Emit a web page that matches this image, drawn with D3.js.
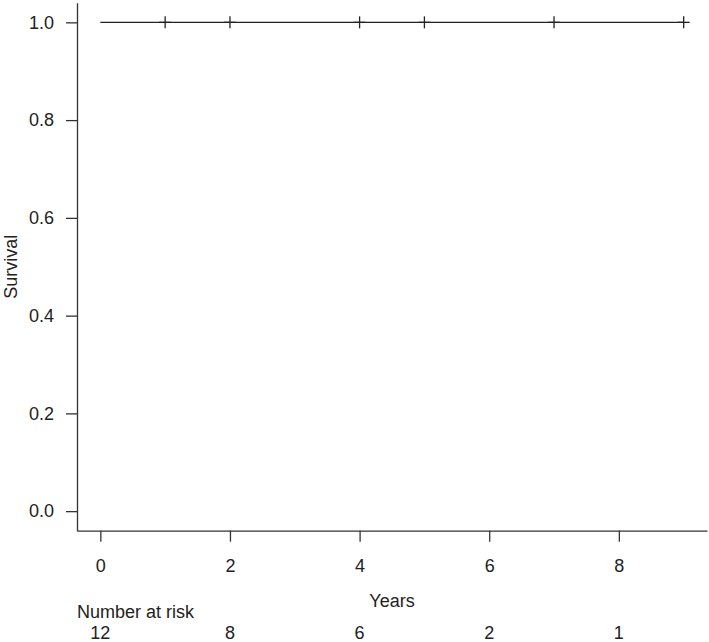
<!DOCTYPE html>
<html>
<head>
<meta charset="utf-8">
<script src="https://cdn.jsdelivr.net/npm/d3@7"></script>
<style>
html,body{margin:0;padding:0;background:#fff;}
svg text{font-family:"Liberation Sans",Arial,sans-serif;}
</style>
</head>
<body>
<svg id="chart" width="709" height="642"></svg>
<script>
// Data
const curveTimes = [0, 9];
const curveSurv = [1.0, 1.0];
const censorTimes = [1, 2, 4, 5, 7, 9];
const censorSurv = [1.0, 1.0, 1.0, 1.0, 1.0, 1.0];
const xTicks = [0, 2, 4, 6, 8];
const yTicks = [0.0, 0.2, 0.4, 0.6, 0.8, 1.0];
const riskTimes = [0, 2, 4, 6, 8];
const riskCounts = [12, 8, 6, 2, 1];

const svg = d3.select("#chart");
const ink = "#333";
const fs = 18;

const x = d3.scaleLinear().domain([-0.36, 9.36]).range([77, 707]);
const y = d3.scaleLinear().domain([-0.04, 1.04]).range([530.7, 2.8]);

// Axes
const gx = svg.append("g").attr("transform", "translate(0,530.7)")
  .call(d3.axisBottom(x).tickValues(xTicks).tickFormat(d3.format("d"))
    .tickSize(11).tickSizeOuter(0).tickPadding(18));
const gy = svg.append("g").attr("transform", "translate(77,0)")
  .call(d3.axisLeft(y).tickValues(yTicks).tickFormat(d3.format(".1f"))
    .tickSize(11).tickSizeOuter(0).tickPadding(12));
[gx, gy].forEach(g => {
  g.selectAll("path,line").attr("stroke", ink).attr("stroke-width", 1.3);
  g.selectAll("text").attr("font-size", fs).attr("fill", "#222")
    .attr("font-family", "'Liberation Sans',Arial,sans-serif");
});

// Survival curve (step)
const pts = curveTimes.map((t, i) => [t, curveSurv[i]]);
svg.append("path")
  .attr("d", d3.line().x(d => x(d[0])).y(d => y(d[1])).curve(d3.curveStepAfter)(pts))
  .attr("fill", "none").attr("stroke", "#222").attr("stroke-width", 1.3);

// Censor marks (+)
const cg = svg.append("g");
censorTimes.forEach((t, i) => {
  const cx = x(t), cy = y(censorSurv[i]);
  cg.append("line").attr("x1", cx).attr("x2", cx).attr("y1", cy - 6).attr("y2", cy + 6)
    .attr("stroke", "#222").attr("stroke-width", 1.3);
  cg.append("line").attr("x1", cx - 6).attr("x2", cx + 6).attr("y1", cy).attr("y2", cy)
    .attr("stroke", "#222").attr("stroke-width", 1.3);
});

// Axis titles
svg.append("text").attr("x", x(4.5)).attr("y", 607).attr("text-anchor", "middle")
  .attr("font-size", fs).attr("fill", "#222").text("Years");
svg.append("text").attr("transform", "translate(17," + y(0.5) + ") rotate(-90)")
  .attr("text-anchor", "middle").attr("font-size", fs).attr("fill", "#222").text("Survival");

// Number at risk
svg.append("text").attr("x", 77).attr("y", 618).attr("font-size", fs).attr("fill", "#222")
  .text("Number at risk");
svg.append("g").selectAll("text").data(riskTimes).join("text")
  .attr("x", d => x(d)).attr("y", 639).attr("text-anchor", "middle")
  .attr("font-size", fs).attr("fill", "#222")
  .text((d, i) => riskCounts[i]);
</script>
</body>
</html>
